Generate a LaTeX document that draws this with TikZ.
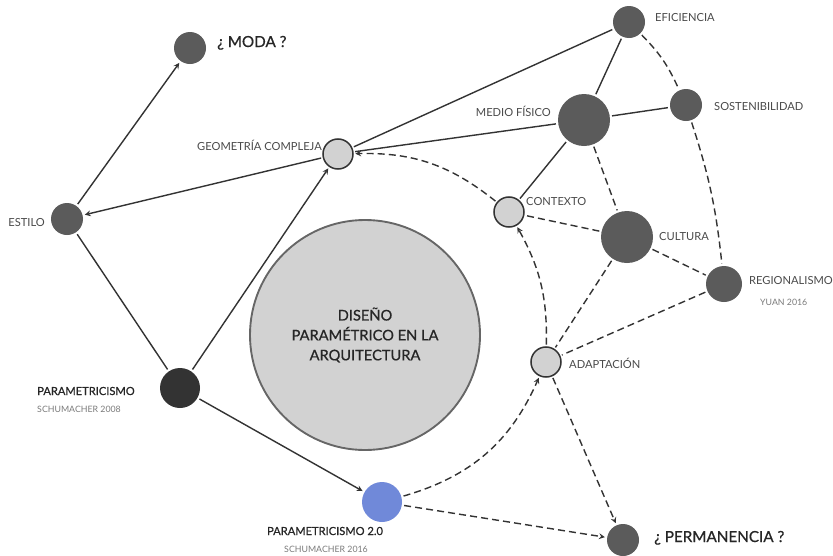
\documentclass[tikz,border=0pt]{standalone}
\usepackage{fontspec}
\setmainfont{Lato}
\newfontfamily\medfont{Lato}[FakeBold=0.7]
\usetikzlibrary{arrows, positioning}
\definecolor{dotgray}{HTML}{5B5B5B}
\definecolor{hubgray}{HTML}{D2D2D2}
\definecolor{inkgray}{HTML}{333333}
\definecolor{txtgray}{HTML}{4A4A4A}
\definecolor{subgray}{HTML}{7A7A7A}
\definecolor{paramblue}{HTML}{7089D9}
\tikzstyle{dot} = [circle, fill=dotgray, inner sep=0pt, outer sep=2pt]
\tikzstyle{hub} = [circle, fill=hubgray, draw=inkgray, line width=1.3pt, inner sep=0pt, minimum size=0.9cm, outer sep=2pt]
\tikzstyle{lbl} = [text=txtgray, inner sep=0pt, font=\fontsize{9.5}{11}\selectfont]
\tikzstyle{title} = [text=black!85, inner sep=0pt, font=\medfont\fontsize{13}{15}\selectfont]
\tikzstyle{sub} = [text=subgray, inner sep=0pt, font=\fontsize{7.5}{9}\selectfont]
\tikzstyle{link} = [draw=inkgray, line width=1.2pt]
\tikzstyle{arrow} = [link, ->, >=stealth]
\tikzstyle{dlink} = [link, dash pattern=on 6pt off 3.5pt]
\tikzstyle{darrow} = [dlink, ->, >=stealth]

\begin{document}
\begin{tikzpicture}[x=0.03cm, y=-0.03cm]
    \useasboundingbox (0,0) rectangle (833,556);

    % Centre
    \node (core) [circle, fill=hubgray, draw=black!60, line width=1.6pt, minimum size=6.9cm, align=center, text=black!85, font=\medfont\fontsize{12.5}{17}\selectfont] at (365,335) {DISEÑO\\PARAMÉTRICO EN LA\\ARQUITECTURA};

    % Nodes
    \node (moda) [dot, minimum size=0.96cm] at (190,48) {};
    \node (estilo) [dot, minimum size=0.96cm] at (67,219) {};
    \node (geom) [hub] at (338,154) {};
    \node (efic) [dot, minimum size=0.96cm] at (629,22) {};
    \node (medio) [dot, minimum size=1.56cm] at (584,120) {};
    \node (sost) [dot, minimum size=0.96cm] at (686,105) {};
    \node (contexto) [hub] at (509,212) {};
    \node (cultura) [dot, minimum size=1.56cm] at (627,237) {};
    \node (region) [dot, minimum size=1.08cm] at (724,284) {};
    \node (adapt) [hub] at (546,362) {};
    \node (param) [dot, fill=inkgray, minimum size=1.2cm] at (180,388) {};
    \node (param2) [dot, fill=paramblue, minimum size=1.2cm] at (382,502) {};
    \node (perm) [dot, minimum size=0.96cm] at (623,540) {};

    % Labels
    \node (modaL) [title, anchor=base west] at (217,47) {¿ MODA ?};
    \node (estiloL) [lbl, anchor=base east] at (45,226) {ESTILO};
    \node (geomL) [lbl, anchor=base east] at (322,150) {GEOMETRÍA COMPLEJA};
    \node (eficL) [lbl, anchor=base west] at (655,21) {EFICIENCIA};
    \node (medioL) [lbl, anchor=base east] at (551,116) {MEDIO FÍSICO};
    \node (sostL) [lbl, anchor=base west] at (714,110) {SOSTENIBILIDAD};
    \node (contextoL) [lbl, anchor=base west] at (526,205) {CONTEXTO};
    \node (culturaL) [lbl, anchor=base west] at (659,240) {CULTURA};
    \node (regionL) [lbl, anchor=base west] at (749,284) {REGIONALISMO};
    \node (regionS) [sub, anchor=base west] at (760,305) {YUAN 2016};
    \node (adaptL) [lbl, anchor=base west] at (569,368) {ADAPTACIÓN};
    \node (paramL) [lbl, text=black!85, font=\medfont\fontsize{9.5}{11}\selectfont, anchor=base west] at (37,395) {PARAMETRICISMO};
    \node (paramS) [sub, anchor=base west] at (37,412) {SCHUMACHER 2008};
    \node (param2L) [lbl, text=black!85, font=\medfont\fontsize{9.5}{11}\selectfont, anchor=base] at (325,535) {PARAMETRICISMO 2.0};
    \node (param2S) [sub, anchor=base] at (326,552) {SCHUMACHER 2016};
    \node (permL) [title, anchor=base west] at (654,542) {¿ PERMANENCIA ?};

    % Solid links
    \draw [arrow] (estilo) -- (moda);
    \draw [arrow] (geom) -- (estilo);
    \draw [arrow] (param) -- (geom);
    \draw [arrow] (param) -- (param2);
    \draw [link] (estilo) -- (param);
    \draw [link] (geom) -- (efic);
    \draw [link] (geom) -- (medio);
    \draw [link] (efic) -- (medio);
    \draw [link] (medio) -- (sost);
    \draw [link] (medio) -- (contexto);

    % Dashed links
    \draw [dlink] (efic) to[bend left=10] (sost);
    \draw [dlink] (sost) to[bend left=6] (region);
    \draw [dlink] (medio) -- (cultura);
    \draw [dlink] (cultura) -- (contexto);
    \draw [dlink] (cultura) -- (region);
    \draw [dlink] (cultura) -- (adapt);
    \draw [dlink] (region) -- (adapt);
    \draw [darrow] (contexto) to[bend right=20] (geom);
    \draw [darrow] (adapt) to[bend right=15] (contexto);
    \draw [darrow] (param2) to[bend right=25] (adapt);
    \draw [darrow] (adapt) -- (perm);
    \draw [darrow] (param2) -- (perm);
\end{tikzpicture}
\end{document}
